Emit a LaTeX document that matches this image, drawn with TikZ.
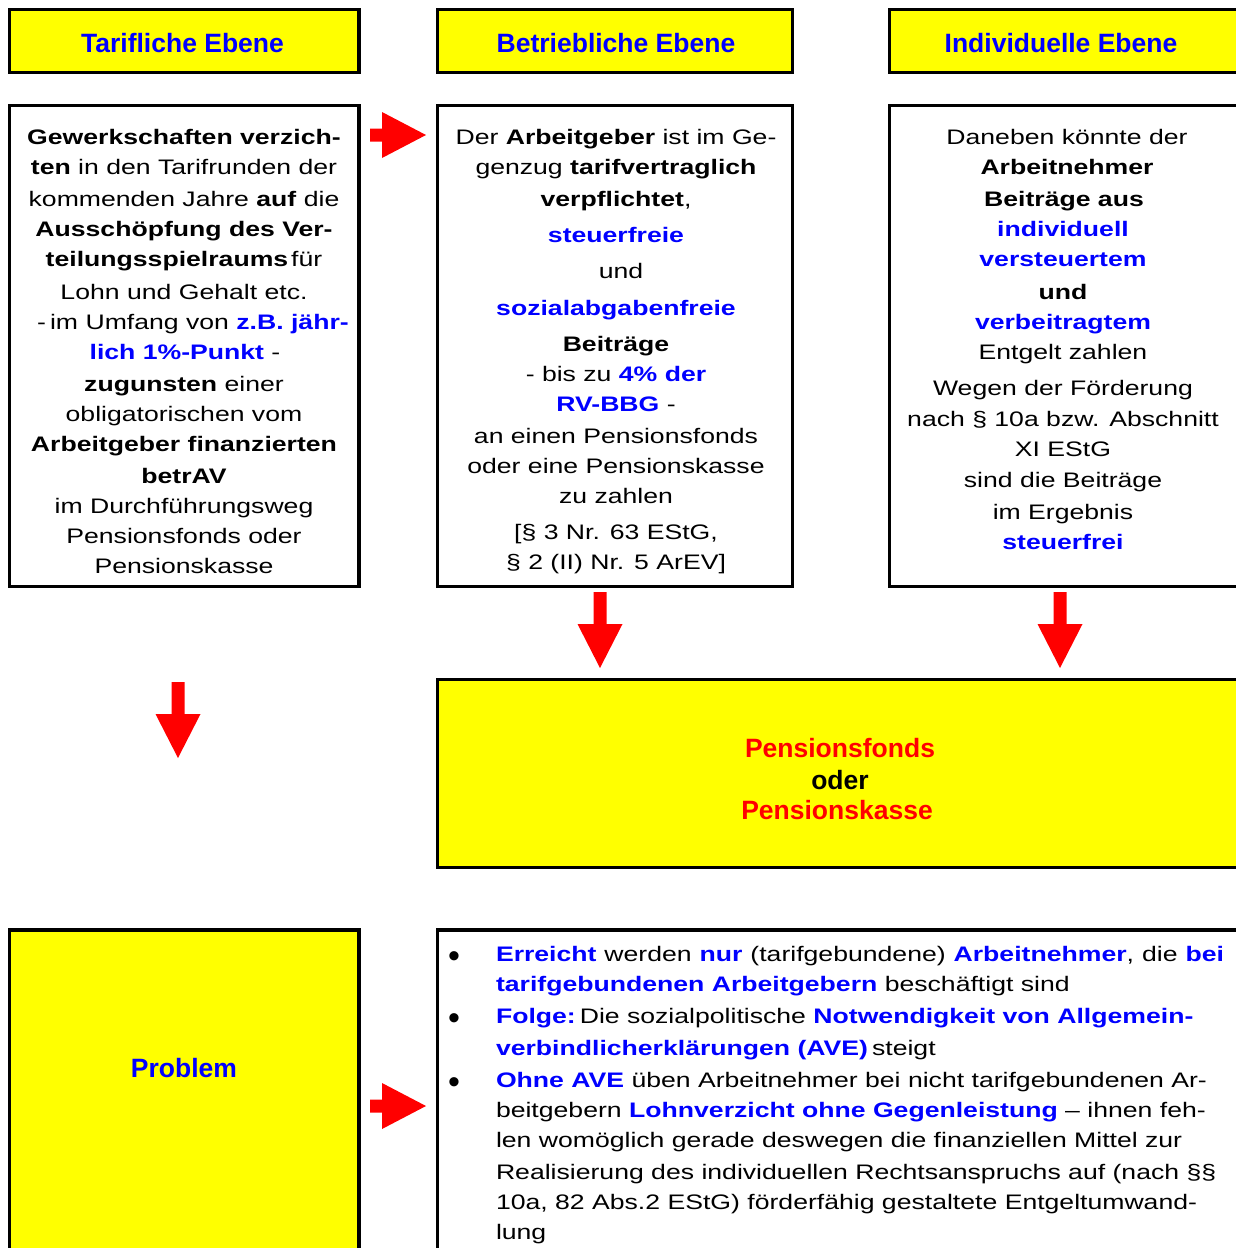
\documentclass[tikz,border=0pt]{standalone}
\usepackage{fontspec}
\setmainfont{Liberation Sans}[FakeStretch=1.267]
\newfontfamily\yfont{Liberation Sans}
\definecolor{tblue}{RGB}{0,0,255}
\definecolor{tred}{RGB}{255,0,0}
\definecolor{tyellow}{RGB}{255,255,0}
\newcommand\bbl[1]{\textcolor{tblue}{\textbf{#1}}}
\newcommand\boxn[6]{\node[#6, minimum width={#4-#2}, minimum height={#5-#3}, anchor=north west] (#1) at (#2,#3) {};}
\newcommand\tline[4]{\node[btxt,anchor=base] (#1) at (#2,#3) {#4};}
\newcommand\lline[4]{\node[btxt,anchor=base west] (#1) at (#2,#3) {#4};}
\tikzset{
  every node/.style={inner sep=0pt, outer sep=0pt},
  frame/.style={draw=black, line width=3.3pt},
  ybox/.style={frame, fill=tyellow},
  wbox/.style={frame, fill=white},
  btxt/.style={font=\fontsize{21}{30}\selectfont, text=black},
  bultxt/.style={font=\yfont\fontsize{34}{30}\selectfont, text=black, anchor=center},
  ytxt/.style={font=\yfont\fontsize{26.5}{30}\selectfont\bfseries, anchor=base},
  rarrow/.pic={\fill[tred] (-56,-6.5) -- (-44,-6.5) -- (-44,-23) -- (0,0) -- (-44,23) -- (-44,6.5) -- (-56,6.5) -- cycle;},
  darrow/.pic={\fill[tred] (-6.5,-76) -- (6.5,-76) -- (6.5,-44) -- (22.5,-44) -- (0,0) -- (-22.5,-44) -- (-6.5,-44) -- cycle;}
}
\begin{document}
\begin{tikzpicture}[x=1pt,y=-1pt]
\useasboundingbox (0,0) rectangle (1236,1248);
\clip (0,0) rectangle (1236,1248);
% boxes
\boxn{h1}{9.7}{9.7}{359}{72.3}{ybox}
\boxn{h2}{437.7}{9.7}{792.5}{72.3}{ybox}
\boxn{h3}{889.7}{9.7}{1250}{72.3}{ybox}
\boxn{b1}{9.7}{105.7}{359}{586.3}{wbox}
\boxn{b2}{437.7}{105.7}{792.5}{586.3}{wbox}
\boxn{b3}{889.7}{105.7}{1250}{586.3}{wbox}
\boxn{pf}{437.7}{679.7}{1250}{867.2}{ybox}
\boxn{pr}{9.7}{930}{359}{1260}{ybox}
\boxn{bu}{437.7}{930}{1250}{1260}{wbox}
% headers
\node[ytxt,text=tblue] (t1) at (182.5,52) {Tarifliche Ebene};
\node[ytxt,text=tblue] (t2) at (616,52) {Betriebliche Ebene};
\node[ytxt,text=tblue] (t3) at (1061,52) {Individuelle Ebene};
% body 1
\tline{a1}{184}{144}{\textbf{Gewerkschaften verzich-}}
\tline{a2}{184}{174}{\textbf{ten} in den Tarifrunden der}
\tline{a3}{184}{206}{kommenden Jahre \textbf{auf} die}
\tline{a4}{184}{236}{\textbf{Ausschöpfung des Ver-}}
\tline{a5}{184}{266}{\textbf{teilungsspielraums}\hspace{3pt}für}
\tline{a6}{184}{299}{Lohn und Gehalt etc.}
\tline{a7}{193}{329}{-\hspace{4pt}im Umfang von \bbl{z.B. jähr-}}
\tline{a8}{185}{359}{\bbl{lich 1\%-Punkt} -}
\tline{a9}{184}{391}{\textbf{zugunsten} einer}
\tline{a10}{184}{421}{obligatorischen vom}
\tline{a11}{184}{451}{\textbf{Arbeitgeber finanzierten}}
\tline{a12}{184}{483}{\textbf{betrAV}}
\tline{a13}{184}{513}{im Durchführungsweg}
\tline{a14}{184}{543}{Pensionsfonds oder}
\tline{a15}{184}{573}{Pensionskasse}
% body 2
\tline{c1}{616}{144}{Der \textbf{Arbeitgeber} ist im Ge-}
\tline{c2}{616}{174}{genzug \textbf{tarifvertraglich}}
\tline{c3}{616}{206}{\textbf{verpflichtet},}
\tline{c4}{616}{242}{\bbl{steuerfreie}}
\tline{c5}{621}{278}{und}
\tline{c6}{616}{315}{\bbl{sozialabgabenfreie}}
\tline{c7}{616}{351}{\textbf{Beiträge}}
\tline{c8}{616}{381}{- bis zu \bbl{4\% der}}
\tline{c9}{616}{411}{\bbl{RV-BBG} -}
\tline{c10}{616}{443}{an einen Pensionsfonds}
\tline{c11}{616}{473}{oder eine Pensionskasse}
\tline{c12}{616}{503}{zu zahlen}
\tline{c13}{616}{539}{[§ 3 Nr. 63 EStG,}
\tline{c14}{616}{569}{§ 2 (II) Nr. 5 ArEV]}
% body 3
\tline{d1}{1067}{144}{Daneben könnte der}
\tline{d2}{1067}{174}{\textbf{Arbeitnehmer}}
\tline{d3}{1064}{206}{\textbf{Beiträge aus}}
\tline{d4}{1063}{236}{\bbl{individuell}}
\tline{d5}{1063}{266}{\bbl{versteuertem}}
\tline{d6}{1063}{299}{\textbf{und}}
\tline{d7}{1063}{329}{\bbl{verbeitragtem}}
\tline{d8}{1063}{359}{Entgelt zahlen}
\tline{d9}{1063}{395}{Wegen der Förderung}
\tline{d10}{1063}{426}{nach § 10a bzw. Abschnitt}
\tline{d11}{1063}{456}{XI EStG}
\tline{d12}{1063}{487}{sind die Beiträge}
\tline{d13}{1063}{519}{im Ergebnis}
\tline{d14}{1063}{549}{\bbl{steuerfrei}}
% Pensionsfonds box
\node[ytxt,text=tred] (p1) at (840,757) {Pensionsfonds};
\node[ytxt,text=black] (p2) at (840,789) {oder};
\node[ytxt,text=tred] (p3) at (837,819) {Pensionskasse};
% Problem
\node[ytxt,text=tblue] (pt) at (184,1077) {Problem};
% bullets
\node[bultxt] (k1) at (454,960) {\textbullet};
\node[bultxt] (k2) at (454,1022) {\textbullet};
\node[bultxt] (k3) at (454,1086) {\textbullet};
\lline{e1}{496}{961}{\makebox[728pt][s]{\bbl{Erreicht} werden \bbl{nur} (tarifgebundene) \bbl{Arbeitnehmer}, die \bbl{bei}}}
\lline{e2}{496}{991}{\bbl{tarifgebundenen Arbeitgebern} beschäftigt sind}
\lline{e3}{496}{1023}{\bbl{Folge:}\hspace{4pt}Die sozialpolitische \bbl{Notwendigkeit von Allgemein-}}
\lline{e4}{496}{1055}{\bbl{verbindlicherklärungen (AVE)}\hspace{4pt}steigt}
\lline{e5}{496}{1087}{\bbl{Ohne AVE} üben Arbeitnehmer bei nicht tarifgebundenen Ar-}
\lline{e6}{496}{1117}{beitgebern \bbl{Lohnverzicht ohne Gegenleistung} – ihnen feh-}
\lline{e7}{496}{1147}{len womöglich gerade deswegen die finanziellen Mittel zur}
\lline{e8}{496}{1179}{Realisierung des individuellen Rechtsanspruchs auf (nach §§}
\lline{e9}{496}{1209}{10a, 82 Abs.2 EStG) förderfähig gestaltete Entgeltumwand-}
\lline{e10}{496}{1239}{lung}
% arrows
\pic (ar1) at (426,135) {rarrow};
\pic (ar2) at (426,1106) {rarrow};
\pic (ad1) at (600,668) {darrow};
\pic (ad2) at (1060,668) {darrow};
\pic (ad3) at (178,758) {darrow};
\end{tikzpicture}
\end{document}
